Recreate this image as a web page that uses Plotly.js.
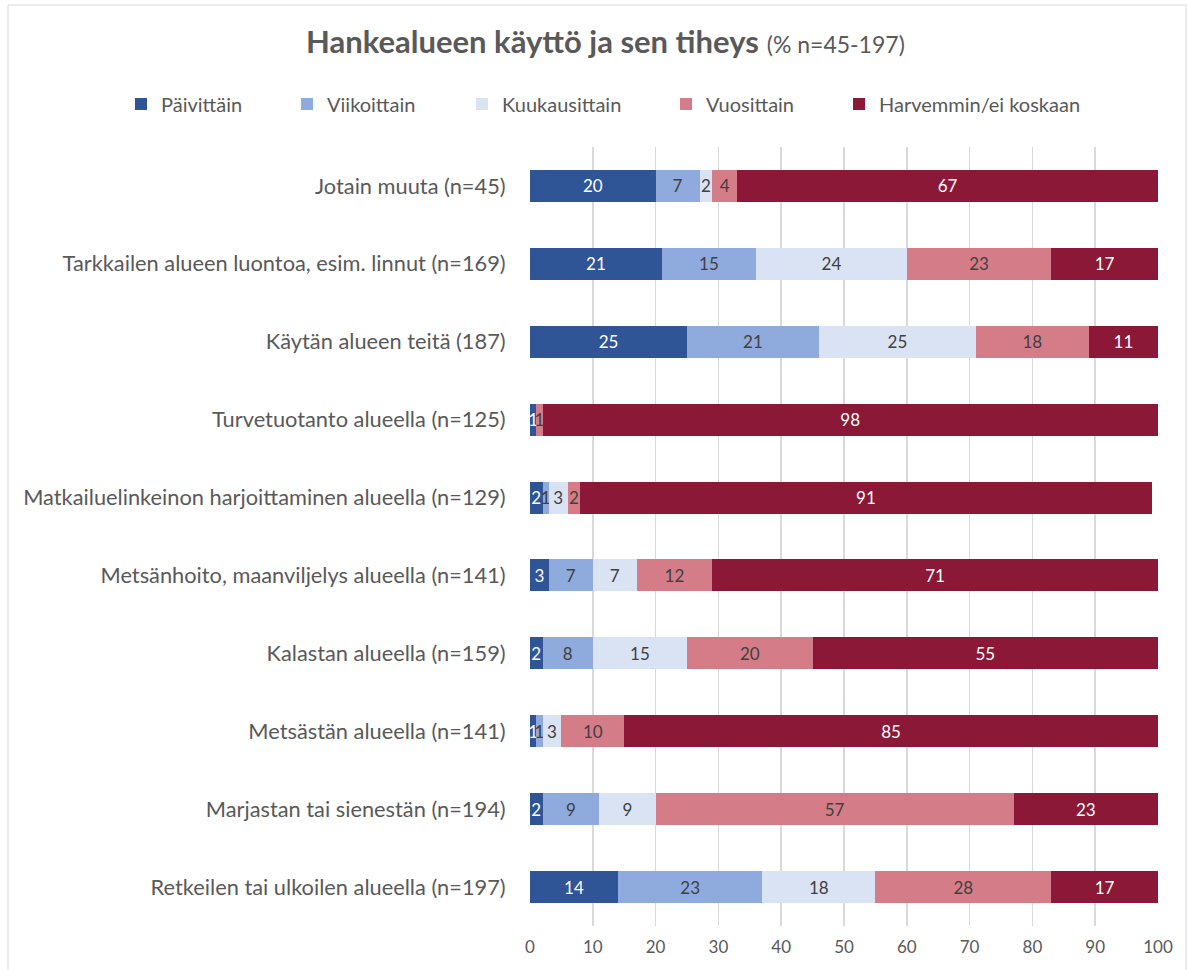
<!DOCTYPE html>
<html>
<head>
<meta charset="utf-8">
<script src="https://cdn.plot.ly/plotly-3.0.1.min.js"></script>
<style>html,body{margin:0;padding:0;background:#fff;}#chart{width:1187px;height:970px;}</style>
</head>
<body>
<div id="chart"></div>
<script>
// Categories listed top to bottom as shown in the chart
const categories = [
  "Jotain muuta (n=45)",
  "Tarkkailen alueen luontoa, esim. linnut (n=169)",
  "Käytän alueen teitä (187)",
  "Turvetuotanto alueella (n=125)",
  "Matkailuelinkeinon harjoittaminen alueella (n=129)",
  "Metsänhoito, maanviljelys alueella (n=141)",
  "Kalastan alueella (n=159)",
  "Metsästän alueella (n=141)",
  "Marjastan tai sienestän (n=194)",
  "Retkeilen tai ulkoilen alueella (n=197)"
];
const seriesNames = ["Päivittäin", "Viikoittain", "Kuukausittain", "Vuosittain", "Harvemmin/ei koskaan"];
const paivittain    = [20, 21, 25, 1, 2, 3, 2, 1, 2, 14];
const viikoittain   = [7, 15, 21, 0, 1, 7, 8, 1, 9, 23];
const kuukausittain = [2, 24, 25, 0, 3, 7, 15, 3, 9, 18];
const vuosittain    = [4, 23, 18, 1, 2, 12, 20, 10, 57, 28];
const harvemmin     = [67, 17, 11, 98, 91, 71, 55, 85, 23, 17];
const xTicks = [0, 10, 20, 30, 40, 50, 60, 70, 80, 90, 100];

const seriesValues = [paivittain, viikoittain, kuukausittain, vuosittain, harvemmin];
const colors = ["#2F5597", "#8FAADC", "#DAE3F3", "#D47D88", "#8C1838"];
const textColors = ["#FFFFFF", "#404040", "#404040", "#404040", "#FFFFFF"];
const FONT = "Lato, 'Open Sans', sans-serif";
// left pixel of each legend entry (one legend per series, laid out in a row)
const legendLeft = [121, 287, 462, 666, 839];
const legendIds = ["legend", "legend2", "legend3", "legend4", "legend5"];

const traces = seriesValues.map((vals, i) => ({
  type: "bar",
  orientation: "h",
  name: seriesNames[i],
  legend: legendIds[i],
  y: categories,
  x: vals,
  text: vals.map(v => v > 0 ? String(v) : ""),
  textposition: "inside",
  insidetextanchor: "middle",
  constraintext: "none",
  textangle: 0,
  textfont: {family: FONT, size: 17, color: textColors[i]},
  marker: {color: colors[i], line: {width: 0}},
  hoverinfo: "x+name"
}));

const PL = 530, PW = 628, PT = 147, PH = 779;

const layout = {
  width: 1187,
  height: 970,
  barmode: "stack",
  bargap: 0.59,
  paper_bgcolor: "#FFFFFF",
  plot_bgcolor: "#FFFFFF",
  font: {family: FONT, color: "#595959"},
  margin: {l: PL, r: 1187 - PL - PW, t: PT, b: 970 - PT - PH},
  title: {
    text: "<b>Hankealueen käyttö ja sen tiheys</b> <span style='font-size:23px'>(% n=45-197)</span>",
    font: {family: FONT, size: 31, color: "#595959"},
    xref: "container", x: 306 / 1187, xanchor: "left",
    yref: "container", y: 1 - 42 / 970, yanchor: "middle"
  },
  showlegend: true,
  xaxis: {
    range: [0, 100],
    tickvals: xTicks,
    ticktext: xTicks.map(String),
    showgrid: true,
    gridcolor: "#D9D9D9",
    gridwidth: 1.5,
    zeroline: false,
    showline: false,
    ticks: "outside",
    ticklen: 6,
    tickcolor: "rgba(0,0,0,0)",
    tickfont: {family: FONT, size: 17, color: "#595959"},
    fixedrange: true
  },
  yaxis: {
    type: "category",
    autorange: "reversed",
    showgrid: false,
    zeroline: false,
    showline: false,
    ticks: "outside",
    ticklen: 19,
    tickcolor: "rgba(0,0,0,0)",
    tickfont: {family: FONT, size: 21.8, color: "#595959"},
    fixedrange: true
  },
  shapes: [{
    type: "rect",
    xref: "paper", yref: "paper",
    x0: (8 - PL) / PW, x1: (1186 - PL) / PW,
    y0: -0.2, y1: (PT + PH - 5) / PH,
    line: {color: "#D9D9D9", width: 1},
    fillcolor: "rgba(0,0,0,0)",
    layer: "below"
  }]
};

legendIds.forEach((id, i) => {
  layout[id] = {
    orientation: "h",
    xref: "container", yref: "container",
    x: legendLeft[i] / 1187, xanchor: "left",
    y: 1 - 104 / 970, yanchor: "middle",
    font: {family: FONT, size: 20, color: "#595959"},
    itemwidth: 30,
    bgcolor: "rgba(0,0,0,0)"
  };
});

Plotly.newPlot("chart", traces, layout, {displayModeBar: false, staticPlot: true});
</script>
</body>
</html>
